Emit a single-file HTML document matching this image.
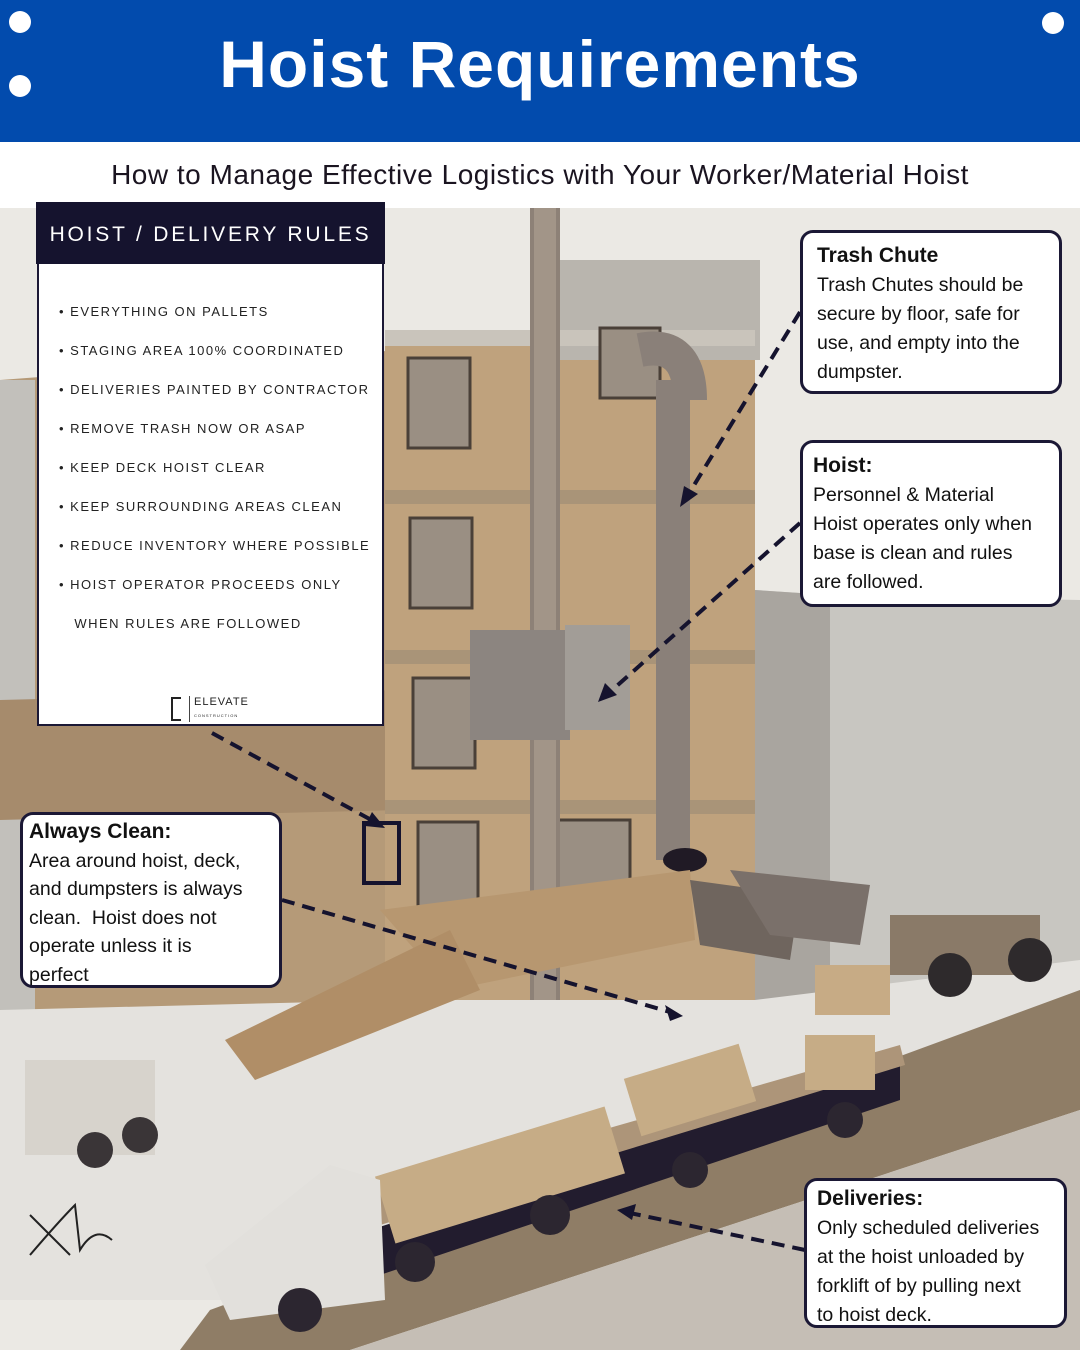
<!DOCTYPE html>
<html><head><meta charset="utf-8"><style>
body{margin:0;width:1080px;height:1350px;overflow:hidden;position:relative;font-family:"Liberation Sans",sans-serif;background:#ebe9e4}
.hdr{position:absolute;left:0;top:0;width:1080px;height:142px;background:#024bad}
.hdr h1{margin:0;position:absolute;left:0;right:0;top:26px;text-align:center;color:#fff;font-size:66px;font-weight:bold;letter-spacing:1px}
.dot{position:absolute;width:22px;height:22px;border-radius:50%;background:#fff}
.sub{position:absolute;top:142px;left:0;width:1080px;height:66px;background:#fff;text-align:center;font-size:28px;line-height:66px;color:#1a1420;letter-spacing:.5px;white-space:nowrap}
.rules{position:absolute;left:37px;top:202px;width:347px;height:524px;background:#fff;border:2px solid #1b1835;border-top:none;box-sizing:border-box}
.rules .t{height:62px;background:#15132e;color:#fff;font-size:21px;letter-spacing:2.8px;line-height:66px;text-align:center;margin:0 -3px;white-space:nowrap}
.rules ul{list-style:none;margin:0;padding:40px 0 0 20px;font-size:13px;letter-spacing:1.5px;color:#222;white-space:nowrap}
.rules li{height:39px}
.co{position:absolute;background:#fff;border:3px solid #1b1835;border-radius:13px;box-sizing:border-box;font-size:19.5px;line-height:29px;color:#111;padding:8px 12px;white-space:nowrap}
.co b{font-size:21px}
</style></head><body>
<svg width="1080" height="1350" style="position:absolute;left:0;top:0">
<rect x="0" y="208" width="1080" height="1142" fill="#ebe9e4"/>
<polygon points="0,380 400,350 400,1020 0,1040" fill="#b59a78"/>
<rect x="0" y="380" width="35" height="900" fill="#c2c0bb"/>
<polygon points="0,700 400,690 400,810 0,820" fill="#a68b6c"/>
<rect x="385" y="330" width="370" height="690" fill="#bfa27d"/>
<rect x="560" y="260" width="200" height="100" fill="#b9b5ae"/>
<rect x="385" y="330" width="370" height="16" fill="#c9c4bb"/>
<rect x="385" y="490" width="370" height="14" fill="#a99478"/>
<rect x="385" y="650" width="370" height="14" fill="#a99478"/>
<rect x="385" y="800" width="370" height="14" fill="#a99478"/>
<g fill="#9a8f83" stroke="#4a4038" stroke-width="3">
<rect x="408" y="358" width="62" height="90"/><rect x="410" y="518" width="62" height="90"/><rect x="413" y="678" width="62" height="90"/><rect x="418" y="822" width="60" height="88"/><rect x="535" y="820" width="95" height="100"/><rect x="600" y="328" width="60" height="70"/>
</g>
<polygon points="755,590 830,595 1080,600 1080,1000 755,1010" fill="#c8c6c1"/>
<polygon points="755,590 830,595 830,1000 755,1010" fill="#a9a59f"/>
<rect x="530" y="208" width="30" height="800" fill="#8d8177"/>
<rect x="534" y="208" width="22" height="800" fill="#b8aa99" opacity=".5"/>
<rect x="470" y="630" width="100" height="110" fill="#8c8580"/><rect x="565" y="625" width="65" height="105" fill="#a29d97"/>
<rect x="656" y="380" width="34" height="480" fill="#8a8079"/>
<path d="M640 350 Q690 340 690 400" stroke="#8a8079" stroke-width="34" fill="none"/>
<ellipse cx="685" cy="860" rx="22" ry="12" fill="#201a25"/>
<polygon points="0,1010 400,1000 755,1000 1080,960 1080,990 250,1300 0,1300" fill="#e4e2de"/>
<polygon points="1080,990 1080,1110 350,1350 180,1350 210,1310" fill="#8f7d66"/>
<polygon points="1080,1110 1080,1350 350,1350" fill="#c5beb5"/>
<polygon points="380,910 690,870 695,940 450,990" fill="#b79770"/>
<polygon points="225,1040 450,930 480,990 255,1080" fill="#b08e67"/>
<polygon points="690,880 800,895 790,960 700,945" fill="#6f655e"/><polygon points="730,870 870,885 860,945 770,935" fill="#7a706a"/>
<rect x="890" y="915" width="150" height="60" fill="#8a7a68"/><circle cx="1030" cy="960" r="22" fill="#2e2a2c"/><circle cx="950" cy="975" r="22" fill="#2e2a2c"/>
<rect x="815" y="965" width="75" height="50" fill="#c7ab85"/>
<rect x="25" y="1060" width="130" height="95" fill="#d7d3cc"/><circle cx="95" cy="1150" r="18" fill="#3a3537"/><circle cx="140" cy="1135" r="18" fill="#3a3537"/>
<polygon points="370,1230 900,1060 900,1100 380,1275" fill="#221c2e"/>
<polygon points="375,1195 900,1045 905,1065 380,1225" fill="#ad9579"/>
<rect x="380" y="1140" width="240" height="70" fill="#c6ac86" transform="rotate(-17 500 1175)"/>
<rect x="630" y="1060" width="120" height="60" fill="#c6ac86" transform="rotate(-17 690 1090)"/>
<rect x="805" y="1035" width="70" height="55" fill="#c6ac86"/>
<polygon points="205,1265 330,1165 380,1180 385,1300 230,1320" fill="#e2e0dc"/>
<circle cx="300" cy="1310" r="22" fill="#2c2630"/><circle cx="415" cy="1262" r="20" fill="#2c2630"/><circle cx="550" cy="1215" r="20" fill="#2c2630"/><circle cx="690" cy="1170" r="18" fill="#2c2630"/><circle cx="845" cy="1120" r="18" fill="#2c2630"/>
<path d="M30 1215 L70 1255 M30 1255 Q60 1220 75 1205 L80 1250 Q95 1225 112 1240" stroke="#222" stroke-width="2" fill="none"/>
<rect x="364" y="823" width="35" height="60" fill="none" stroke="#15132e" stroke-width="4"/>
<g stroke="#15132e" stroke-width="4" stroke-dasharray="13,8" fill="none">
<line x1="800" y1="312" x2="688" y2="495"/>
<line x1="800" y1="523" x2="610" y2="692"/>
<line x1="212" y1="733" x2="375" y2="822"/>
<line x1="282" y1="900" x2="670" y2="1012"/>
<line x1="805" y1="1250" x2="630" y2="1213"/>
</g>
<g fill="#15132e">
<polygon points="680,507 684,486 698,494"/>
<polygon points="598,702 605,683 617,695"/>
<polygon points="385,828 365,826 372,812"/>
<polygon points="683,1016 665,1005 670,1021"/>
<polygon points="617,1210 636,1204 632,1220"/>
</g>
</svg>
<div class="hdr"><h1>Hoist Requirements</h1></div>
<div class="dot" style="left:9px;top:11px"></div><div class="dot" style="left:9px;top:75px"></div><div class="dot" style="left:1042px;top:12px"></div>
<div class="sub">How to Manage Effective Logistics with Your Worker/Material Hoist</div>
<div class="rules"><div class="t">HOIST / DELIVERY RULES</div>
<ul><li>• EVERYTHING ON PALLETS</li><li>• STAGING AREA 100% COORDINATED</li><li>• DELIVERIES PAINTED BY CONTRACTOR</li><li>• REMOVE TRASH NOW OR ASAP</li><li>• KEEP DECK HOIST CLEAR</li><li>• KEEP SURROUNDING AREAS CLEAN</li><li>• REDUCE INVENTORY WHERE POSSIBLE</li><li>• HOIST OPERATOR PROCEEDS ONLY</li><li>&nbsp;&nbsp;&nbsp;WHEN RULES ARE FOLLOWED</li></ul>
<div style="position:absolute;left:150px;top:494px;font-size:11px;letter-spacing:1px;color:#222;border-left:1px solid #444;padding-left:4px;line-height:12px">ELEVATE<br><span style="font-size:4px">CONSTRUCTION</span></div>
<div style="position:absolute;left:132px;top:495px;width:8px;height:20px;border:2px solid #222;border-right:none"></div>
</div>
<div class="co" style="left:800px;top:230px;width:262px;height:164px;padding:8px 12px 0 14px"><b>Trash Chute</b><br>Trash Chutes should be<br>secure by floor, safe for<br>use, and empty into the<br>dumpster.</div>
<div class="co" style="left:800px;top:440px;width:262px;height:167px;padding:8px 8px 0 10px"><b>Hoist:</b><br>Personnel &amp; Material<br>Hoist operates only when<br>base is clean and rules<br>are followed.</div>
<div class="co" style="left:20px;top:812px;width:262px;height:176px;padding:3px 6px 0;line-height:28.5px"><b>Always Clean:</b><br>Area around hoist, deck,<br>and dumpsters is always<br>clean.&nbsp; Hoist does not<br>operate unless it is<br>perfect</div>
<div class="co" style="left:804px;top:1178px;width:263px;height:150px;padding:3px 10px 0"><b>Deliveries:</b><br>Only scheduled deliveries<br>at the hoist unloaded by<br>forklift of by pulling next<br>to hoist deck.</div>
</body></html>
